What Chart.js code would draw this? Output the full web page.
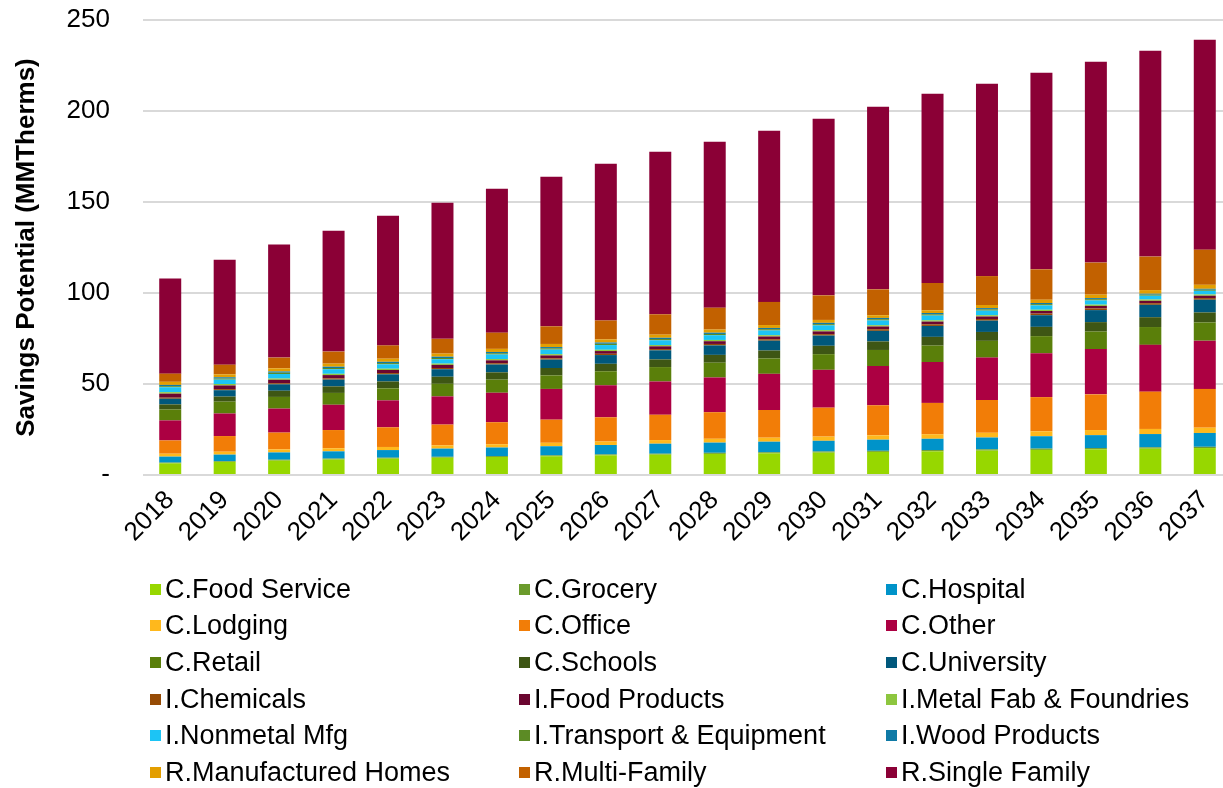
<!DOCTYPE html>
<html>
<head>
<meta charset="utf-8">
<script src="https://cdn.jsdelivr.net/npm/chart.js@4.4.1/dist/chart.umd.min.js"></script>
<style>
  html, body { margin: 0; padding: 0; background: #fff; overflow: hidden; }
  body { width: 1223px; height: 788px; position: relative; }
  #wrap { position: absolute; left: 0; top: 0; width: 1236px; height: 578px; }
  #legend {
    position: absolute; left: 150px; top: 571px;
    display: grid; grid-template-columns: 369px 367px 320px;
    grid-auto-rows: 36.6px;
    font-family: 'Liberation Sans', Arial, sans-serif; font-size: 27px; color: #000;
  }
  .item { display: flex; align-items: center; white-space: nowrap; }
  .box { width: 11px; height: 11px; margin-right: 4px; flex: none; }
</style>
</head>
<body>
<div id="wrap"><canvas id="chart"></canvas></div>
<div id="legend"></div>
<script>
'use strict';

// ── Data ──────────────────────────────────────────────────────
const years = ['2018','2019','2020','2021','2022','2023','2024','2025','2026','2027',
               '2028','2029','2030','2031','2032','2033','2034','2035','2036','2037'];

const seriesNames = [
  'C.Food Service', 'C.Grocery', 'C.Hospital',
  'C.Lodging', 'C.Office', 'C.Other',
  'C.Retail', 'C.Schools', 'C.University',
  'I.Chemicals', 'I.Food Products', 'I.Metal Fab & Foundries',
  'I.Nonmetal Mfg', 'I.Transport & Equipment', 'I.Wood Products',
  'R.Manufactured Homes', 'R.Multi-Family', 'R.Single Family'
];

const foodService  = [6.4, 7.2, 7.9, 8.5, 9.0, 9.5, 9.9, 10.3, 10.8, 11.2, 11.6, 11.9, 12.3, 12.7, 13.0, 13.4, 13.8, 14.1, 14.5, 14.8];
const grocery      = [0.4, 0.4, 0.5, 0.5, 0.5, 0.5, 0.5, 0.5, 0.5, 0.5, 0.6, 0.6, 0.6, 0.6, 0.7, 0.7, 0.7, 0.7, 0.7, 0.7];
const hospital     = [3.3, 3.6, 4.0, 4.0, 4.2, 4.5, 4.7, 5.0, 5.2, 5.5, 5.6, 5.8, 5.9, 6.1, 6.2, 6.5, 6.8, 7.1, 7.3, 7.6];
const lodging      = [1.6, 1.6, 1.7, 1.7, 1.7, 1.8, 1.8, 1.9, 1.9, 2.0, 2.1, 2.2, 2.3, 2.4, 2.5, 2.6, 2.7, 2.8, 2.8, 2.9];
const office       = [7.3, 8.6, 9.2, 10.0, 10.8, 11.4, 12.1, 12.7, 13.3, 13.9, 14.6, 15.2, 15.9, 16.5, 17.2, 18.0, 18.8, 19.6, 20.5, 21.3];
const other        = [11.0, 12.4, 13.2, 13.9, 14.8, 15.5, 16.2, 16.9, 17.6, 18.3, 19.1, 19.9, 20.8, 21.6, 22.5, 23.3, 24.1, 24.9, 25.7, 26.5];
const retail       = [6.0, 6.5, 6.4, 6.5, 6.6, 6.9, 7.2, 7.4, 7.7, 7.9, 8.1, 8.4, 8.6, 8.8, 9.0, 9.2, 9.4, 9.6, 9.8, 10.0];
const schools      = [2.8, 2.8, 3.4, 3.6, 3.8, 3.9, 4.0, 4.1, 4.1, 4.2, 4.3, 4.4, 4.6, 4.7, 4.8, 4.9, 5.1, 5.2, 5.4, 5.5];
const university   = [3.1, 3.5, 3.5, 3.7, 3.9, 4.1, 4.3, 4.6, 4.8, 5.0, 5.2, 5.4, 5.6, 5.8, 6.0, 6.2, 6.4, 6.6, 6.8, 7.0];
const chemicals    = [0.6, 0.6, 0.6, 0.7, 0.7, 0.7, 0.7, 0.7, 0.7, 0.7, 0.8, 0.8, 0.8, 0.9, 0.9, 0.9, 0.9, 0.9, 0.9, 0.9];
const foodProducts = [2.2, 2.0, 1.9, 1.8, 1.7, 1.7, 1.6, 1.6, 1.5, 1.5, 1.5, 1.5, 1.5, 1.5, 1.5, 1.4, 1.4, 1.4, 1.3, 1.3];
const metalFab     = [0.8, 0.8, 0.7, 0.7, 0.7, 0.7, 0.7, 0.7, 0.7, 0.7, 0.7, 0.7, 0.7, 0.7, 0.7, 0.7, 0.7, 0.7, 0.7, 0.7];
const nonmetal     = [2.7, 2.4, 2.5, 2.5, 2.4, 2.4, 2.5, 2.5, 2.6, 2.6, 2.6, 2.6, 2.6, 2.6, 2.6, 2.5, 2.4, 2.3, 2.1, 2.0];
const transport    = [0.6, 0.6, 0.7, 0.7, 0.7, 0.7, 0.7, 0.7, 0.7, 0.7, 0.7, 0.7, 0.7, 0.7, 0.7, 0.7, 0.7, 0.7, 0.6, 0.6];
const wood         = [0.7, 0.7, 0.7, 0.7, 0.7, 0.7, 0.7, 0.7, 0.7, 0.7, 0.7, 0.7, 0.7, 0.7, 0.7, 0.7, 0.6, 0.6, 0.5, 0.5];
const manufHomes   = [1.7, 1.6, 1.7, 1.7, 1.7, 1.7, 1.7, 1.7, 1.7, 1.7, 1.7, 1.6, 1.6, 1.5, 1.5, 1.7, 1.8, 1.9, 2.0, 2.2];
const multiFamily  = [4.5, 5.3, 5.9, 6.6, 7.3, 8.1, 8.9, 9.7, 10.4, 11.2, 12.0, 12.7, 13.5, 14.2, 15.0, 15.9, 16.7, 17.6, 18.4, 19.3];
const singleFamily = [52.2, 57.7, 62.1, 66.4, 71.3, 74.8, 79.1, 82.2, 86.1, 89.3, 91.2, 94.1, 97.1, 100.4, 104.0, 105.7, 108.0, 110.4, 113.1, 115.4];

const yTicks = [0, 50, 100, 150, 200, 250];

// ── Styling ───────────────────────────────────────────────────
const seriesData = [
  foodService, grocery, hospital, lodging, office, other, retail, schools, university,
  chemicals, foodProducts, metalFab, nonmetal, transport, wood, manufHomes, multiFamily, singleFamily
];

const seriesColors = [
  '#97D700', '#6B9B2C', '#0093C9',
  '#FFB81C', '#F27D07', '#AC0042',
  '#5A7F0A', '#3E5614', '#00587C',
  '#964B05', '#6B0630', '#8DC63F',
  '#1CC4F5', '#5C8B25', '#0F7AA6',
  '#E39E00', '#C26100', '#8B0036'
];

const FONT = "'Liberation Sans', Arial, sans-serif";

const datasets = seriesNames.map((name, i) => ({
  label: name,
  data: seriesData[i],
  backgroundColor: seriesColors[i],
  borderWidth: 0,
  categoryPercentage: 1,
  barPercentage: 0.404,
}));

// ── Chart ─────────────────────────────────────────────────────
const ctx = document.getElementById('chart').getContext('2d');

new Chart(ctx, {
  type: 'bar',
  data: { labels: years, datasets },
  options: {
    responsive: true,
    maintainAspectRatio: false,
    animation: false,
    layout: { padding: { top: 20, right: 4, left: 0, bottom: 0 } },
    plugins: {
      legend: { display: false },
      tooltip: { enabled: false },
    },
    scales: {
      x: {
        stacked: true,
        grid: { display: false },
        border: { display: false },
        ticks: {
          color: '#000',
          font: { family: FONT, size: 26 },
          maxRotation: 45,
          minRotation: 45,
          padding: 2,
          autoSkip: false,
        },
        afterFit: scale => { scale.height = 103; },
      },
      y: {
        stacked: true,
        min: 0,
        max: 250,
        afterBuildTicks: scale => { scale.ticks = yTicks.map(v => ({ value: v })); },
        grid: { color: '#D9D9D9', lineWidth: 2, drawTicks: false },
        border: { display: false },
        ticks: {
          color: '#000',
          font: { family: FONT, size: 26 },
          padding: 33,
          callback: v => (v === 0 ? '-' : v),
        },
        title: {
          display: true,
          text: 'Savings Potential (MMTherms)',
          color: '#000',
          font: { family: FONT, size: 26, weight: 'bold' },
          padding: { top: 11, bottom: 0 },
        },
        // fixed axis width; drop the extra label padding so the plot starts at 250 = y20
        afterFit: scale => {
          scale.width = 143;
          scale.paddingTop = 0;
          scale.paddingBottom = 0;
        },
      },
    },
  },
});

// ── HTML legend (3 columns, row order) ────────────────────────
const legendEl = document.getElementById('legend');
seriesNames.forEach((name, i) => {
  const item = document.createElement('div');
  item.className = 'item';
  const box = document.createElement('span');
  box.className = 'box';
  box.style.background = seriesColors[i];
  const txt = document.createElement('span');
  txt.textContent = name;
  item.appendChild(box);
  item.appendChild(txt);
  legendEl.appendChild(item);
});
</script>
</body>
</html>
